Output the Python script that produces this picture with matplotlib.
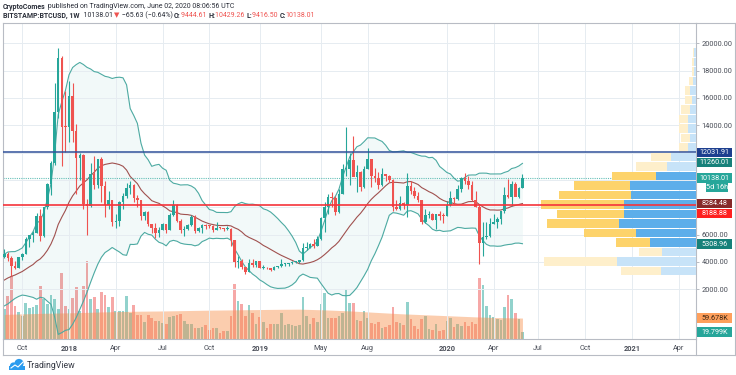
import numpy as np
import pandas as pd
import matplotlib
matplotlib.use('Agg')
import matplotlib.pyplot as plt
import matplotlib.dates as mdates
import matplotlib.transforms as mtransforms
from matplotlib.patches import Rectangle, Circle
from matplotlib.lines import Line2D

plt.rcParams['font.family'] = ['Roboto', 'DejaVu Sans']

# BITSTAMP:BTCUSD weekly candles, first visible week starts 2017-08-28
week_start = '2017-08-28'
opens = [4380, 4580, 4320, 3700, 3590, 4330, 4600, 5680, 6000, 6150,
         7370, 5920, 8000, 9700, 11250, 15000, 18950, 13900, 13850, 16150,
         13600, 11600, 11800, 8250, 8100, 10400, 9600, 11500, 9550, 8200,
         8500, 6900, 7000, 8350, 8800, 9400, 9650, 8700, 8500, 7350,
         7650, 6750, 6450, 6150, 6350, 6750, 6350, 7400, 8200, 7000,
         6300, 6400, 6700, 7300, 6250, 6500, 6700, 6620, 6600, 6300,
         6500, 6450, 6400, 6400, 5600, 4000, 4100, 3600, 3250, 3950,
         3800, 4050, 3550, 3550, 3520, 3420, 3650, 3680, 3820, 3850,
         3900, 4000, 4000, 4140, 5050, 5050, 5300, 5200, 5700, 7250,
         8000, 8750, 8700, 7650, 8950, 10800, 10800, 11450, 10200, 10600,
         9500, 10800, 11550, 10300, 10150, 9600, 10400, 10300, 10000, 8050,
         7850, 8300, 8200, 9550, 9200, 8800, 8500, 6900, 7400, 7500,
         7100, 7500, 7380, 7350, 8150, 8700, 8600, 9350, 10150, 9900,
         9650, 8550, 8050, 5350, 5800, 5900, 6780, 6900, 7120, 7700,
         8900, 8750, 9680, 8720, 9444.61]
highs = [4980, 4700, 4400, 4100, 4380, 4620, 5860, 6000, 6250, 7600,
         7880, 8000, 9750, 11400, 17100, 19660, 19100, 16500, 17250, 17100,
         14100, 12000, 11900, 8600, 11250, 11750, 11550, 11700, 9950, 9200,
         8500, 7500, 8450, 9050, 9750, 9950, 9700, 8900, 8500, 7750,
         7750, 6800, 6850, 6530, 6830, 6800, 7600, 8500, 8270, 7150,
         6600, 6800, 7400, 7400, 6550, 6800, 6800, 6680, 6700, 6900,
         6550, 6500, 6600, 6500, 5600, 4400, 4200, 3600, 4250, 4250,
         4100, 4100, 3750, 3630, 3550, 3700, 3700, 4200, 3900, 3950,
         4050, 4100, 4150, 5350, 5450, 5400, 5650, 5900, 7300, 8350,
         8950, 9100, 8800, 9350, 11200, 13880, 12000, 13200, 11100, 10650,
         11050, 12300, 11550, 10900, 10600, 10900, 10450, 10350, 10050, 8500,
         8800, 8400, 10500, 9950, 9500, 9100, 8500, 7850, 7750, 7600,
         7500, 7700, 7550, 8450, 9200, 8750, 9600, 10200, 10500, 10300,
         9950, 9200, 8150, 6900, 6950, 7200, 7500, 7300, 7750, 9450,
         10050, 9950, 9850, 9500, 10429.26]
lows = [4300, 4100, 2980, 3500, 3580, 4150, 4560, 5100, 5450, 6100,
        5500, 5840, 7900, 8900, 11100, 14500, 11000, 12050, 12750, 12800,
        9000, 10000, 7900, 5950, 8000, 9300, 9400, 8400, 7300, 7900,
        6600, 6450, 6650, 7850, 8700, 9000, 8350, 8000, 7100, 7050,
        6650, 6100, 5750, 5800, 6350, 6100, 6300, 7350, 6900, 6150,
        5880, 6300, 6650, 6100, 6200, 6100, 6400, 6500, 6200, 6300,
        6400, 6250, 6300, 5200, 3600, 3560, 3500, 3150, 3250, 3600,
        3650, 3550, 3480, 3450, 3350, 3380, 3550, 3660, 3700, 3700,
        3850, 3900, 3900, 4100, 4900, 5000, 5000, 5150, 5600, 6200,
        7500, 8000, 7450, 7550, 8950, 10300, 9650, 11100, 9100, 9200,
        9400, 10800, 9450, 9850, 9350, 9550, 9900, 9850, 7700, 7780,
        7800, 7900, 7300, 8950, 8700, 8350, 6800, 6850, 7200, 7050,
        6430, 7100, 6880, 7350, 8100, 8250, 8500, 9100, 9700, 9300,
        8450, 8000, 3850, 4450, 5700, 5850, 6750, 6500, 6800, 7600,
        8650, 8100, 8800, 8650, 9416.50]
closes = [4580, 4320, 3700, 3590, 4330, 4600, 5680, 6000, 6150, 7370,
          5920, 8000, 9700, 11250, 15000, 18950, 13900, 13850, 16150, 13600,
          11600, 11800, 8250, 8100, 10400, 9600, 11500, 9550, 8200, 8500,
          6900, 7000, 8350, 8800, 9400, 9650, 8700, 8500, 7350, 7650,
          6750, 6450, 6150, 6350, 6750, 6350, 7400, 8200, 7000, 6300,
          6400, 6700, 7300, 6250, 6500, 6700, 6620, 6600, 6300, 6500,
          6450, 6400, 6400, 5600, 4000, 4100, 3600, 3250, 3950, 3800,
          4050, 3550, 3550, 3520, 3420, 3650, 3680, 3820, 3850, 3900,
          4000, 4000, 4140, 5050, 5050, 5300, 5200, 5700, 7250, 8000,
          8750, 8700, 7650, 8950, 10800, 10800, 11450, 10200, 10600, 9500,
          10800, 11550, 10300, 10150, 9600, 10400, 10300, 10000, 8050, 7850,
          8300, 8200, 9550, 9200, 8800, 8500, 6900, 7400, 7500, 7100,
          7500, 7380, 7350, 8150, 8700, 8600, 9350, 10150, 9900, 9650,
          8550, 8050, 5350, 5800, 5900, 6780, 6900, 7120, 7700, 8900,
          8750, 9680, 8720, 9444.61, 10138.01]
# weekly volume, thousands of BTC
volumes_k = [85, 123, 180, 94, 77, 66, 103, 88, 91, 97,
             151, 114, 100, 125, 114, 86, 188, 94, 86, 117,
             148, 80, 151, 222, 114, 120, 86, 134, 125, 91,
             120, 80, 80, 80, 123, 74, 97, 68, 68, 48,
             68, 60, 51, 51, 46, 43, 63, 66, 68, 71,
             51, 43, 43, 31, 31, 34, 40, 26, 31, 31,
             17, 23, 23, 66, 157, 108, 100, 66, 97, 74,
             43, 63, 48, 31, 43, 43, 43, 74, 40, 43,
             40, 37, 40, 120, 66, 43, 60, 48, 100, 131,
             60, 60, 60, 66, 74, 143, 103, 103, 54, 51,
             80, 60, 46, 43, 48, 31, 34, 40, 91, 48,
             46, 40, 105, 57, 37, 29, 57, 66, 29, 26,
             43, 23, 26, 51, 60, 34, 43, 37, 48, 37,
             48, 43, 174, 154, 94, 68, 63, 57, 54, 91,
             125, 114, 74, 57, 19.8]
# closes of the 19 weeks before the first visible candle (Bollinger warm-up)
warmup_closes = [1240, 1350, 1560, 1780, 2050, 2200, 2520, 2950, 2500, 2550,
                 2500, 2500, 1930, 2750, 2750, 3230, 4050, 4080, 4350]

# orange volume average band, read at a few weeks (week index, thousands)
vol_avg_weeks = [0, 10, 20, 27, 36, 45, 56, 68, 76, 82, 89, 96, 103, 110, 117, 124, 131, 137, 144]
vol_avg_k = [70, 73, 75, 77, 79, 80, 82, 83.5, 84.5, 85, 83, 80, 76, 72, 69, 66, 63, 61, 59.678]

# visible range volume profile: 24 rows from the lowest low to the highest high
vp_up = [40, 73, 23, 34, 52, 72, 67, 83, 72, 56, 44, 31, 20, 9, 9, 9, 9, 9, 7, 5, 4, 2, 2, 1.5]
vp_down = [35, 79, 34, 46, 60, 77, 72, 72, 65, 66, 40, 29, 25, 8, 6, 8, 8, 6, 4, 6, 3, 2, 2, 1.5]
value_area = (3, 10)

h_lines = [12031.91, 8188.88]
price_ticks = [2000, 4000, 6000, 8000, 10000, 12000, 14000, 16000, 18000, 20000]
hidden_ticks = [8000, 10000, 12000]   # covered by the value boxes on the scale
tick_dates = ['2017-10-02', '2018-01-01', '2018-04-02', '2018-07-02', '2018-10-01', '2019-01-07',
              '2019-05-06', '2019-08-05', '2020-01-06', '2020-04-06', '2020-07-01', '2020-10-01',
              '2021-01-01', '2021-04-01']
tick_labels = ['Oct', '2018', 'Apr', 'Jul', 'Oct', '2019', 'May', 'Aug', '2020', 'Apr', 'Jul', 'Oct', '2021', 'Apr']

UP, DOWN = '#26A69A', '#EF5350'
FRAME = '#B8BCC4'
TXT = '#2A2E39'

W, H = 736, 375
fig = plt.figure(figsize=(W / 100, H / 100), dpi=100)
L, R, T, B = 3, 696, 23, 339
rect = [L / W, 1 - B / H, (R - L) / W, (B - T) / H]
axv = fig.add_axes(rect)
ax = fig.add_axes(rect, sharex=axv)
ax.patch.set_visible(False)

dates = pd.date_range(week_start, periods=len(closes), freq='7D')
x = mdates.date2num(dates)
o = np.array(opens); c = np.array(closes)
cols = np.where(c >= o, UP, DOWN)

# bollinger bands 20, 2
s = pd.Series(warmup_closes + closes, dtype=float)
mid = s.rolling(20).mean().values[-len(closes):]
sd = s.rolling(20).std(ddof=0).values[-len(closes):]
upper, lower = mid + 2 * sd, mid - 2 * sd

ax.fill_between(x, lower, upper, color=UP, alpha=0.06, lw=0, zorder=1)
ax.plot(x, upper, color='#4DAAA2', lw=0.8, zorder=2)
ax.plot(x, lower, color='#4DAAA2', lw=0.8, zorder=2)
ax.plot(x, mid, color='#A0514F', lw=0.8, zorder=2)

# candles
ax.vlines(x, lows, highs, colors=cols, lw=0.8, zorder=3)
ax.bar(x, np.maximum(np.abs(c - o), 70), bottom=np.minimum(o, c), width=5,
       color=cols, lw=0, zorder=4)

# volume
axv.bar(x, volumes_k, width=5.2, color=cols, alpha=0.5, lw=0, zorder=2)
axv.fill_between(mdates.date2num(dates[vol_avg_weeks]), 0, vol_avg_k,
                 color='#F8904D', alpha=0.45, lw=0, zorder=3)
axv.set_ylim(0, 900)
axv.axis('off')

# horizontal lines and last price line
ax.axhline(h_lines[0], color='#30519A', lw=1.1, zorder=6)
ax.axhline(h_lines[1], color='#F5333B', lw=1.2, zorder=6)
ax.axhline(closes[-1], color=UP, lw=0.8, ls=(0, (1, 1)), alpha=0.7, zorder=2)

x0 = mdates.date2num(pd.Timestamp('2018-01-01'))
ax.set_xlim(x0 - 128.4, x0 + 1219.6)
ax.set_ylim(-1639, 21482)

# volume profile, anchored to the right edge
lo, hi = min(lows), max(highs)
step = (hi - lo) / len(vp_up)
tr = mtransforms.blended_transform_factory(ax.transAxes, ax.transData)
scale = 0.224 / max(u + d for u, d in zip(vp_up, vp_down))
for k, (u, d) in enumerate(zip(vp_up, vp_down)):
    in_va = value_area[0] <= k <= value_area[1]
    cu = '#FDD36B' if in_va else '#FEEFCB'
    cd = '#5DAEEA' if in_va else '#C7E3F8'
    yb = lo + k * step + step * 0.06
    hh = step * 0.88
    ax.add_patch(Rectangle((1 - d * scale, yb), d * scale, hh, transform=tr, fc=cd, lw=0, zorder=5))
    ax.add_patch(Rectangle((1 - (u + d) * scale, yb), u * scale, hh, transform=tr, fc=cu, lw=0, zorder=5))

# axes styling
ax.set_yticks(price_ticks)
ax.set_yticklabels(['' if p in hidden_ticks else '{:.2f}'.format(p) for p in price_ticks])
ax.yaxis.tick_right()
ax.tick_params(axis='y', length=2.5, width=0.7, color=FRAME, pad=1.5, labelsize=5.3, labelcolor='#4A4E58')
ax.set_xticks(mdates.date2num(pd.to_datetime(tick_dates)))
ax.set_xticklabels(tick_labels)
ax.tick_params(axis='x', length=0, pad=4, labelsize=5.3, labelcolor='#4A4E58')
for lab in ax.get_xticklabels():
    if lab.get_text().isdigit():
        lab.set_fontweight('bold')
ax.grid(color='#E6ECF1', lw=0.7, zorder=0)
for sp in ax.spines.values():
    sp.set_color(FRAME)
    sp.set_linewidth(0.8)

# outer frame of the chart window
idt = mtransforms.IdentityTransform()


def fig_line(xs, ys, color=FRAME, lw=0.8):
    fig.add_artist(Line2D(xs, [H - y for y in ys], transform=idt, color=color, lw=lw))


fig_line([R, 734.5], [T, T])
fig_line([734.5, 734.5], [T, 355])
fig_line([L, 734.5], [355, 355])
fig_line([L, L], [B, 355])
fig_line([R, R], [B, 355])


def axis_box(yc, text, fc, tc='white', xl=697, w=35):
    fig.add_artist(Rectangle((xl, H - yc - 4.6), w, 9.2, transform=idt, fc=fc, lw=0, zorder=5))
    fig.text((xl + w / 2) / W, 1 - yc / H, text, ha='center', va='center',
             fontsize=5.2, color=tc, zorder=6)


def price_y(p, axis=ax):
    return H - axis.transData.transform((x0, p))[1]


axis_box(price_y(12031.91), '12031.91', '#1D3F8F')
axis_box(price_y(11260.01), '11260.01', '#16817A')
axis_box(price_y(10138.01), '10138.01', UP)
axis_box(price_y(10138.01) + 9.3, '5d 16h', UP, xl=706, w=22)
axis_box(price_y(8284.48), '8284.48', '#862A2A')
axis_box(price_y(8188.88) + 8.5, '8188.88', '#FF2020')
axis_box(price_y(5308.96), '5308.96', '#16817A')
axis_box(price_y(59.678, axv), '59.678K', '#FFA05C', tc='#3B2412')
axis_box(price_y(19.799, axv), '19.799K', UP)

# header
renderer = fig.canvas.get_renderer()


def runs(xp, yp, parts, size=5.0):
    for txt, color, weight in parts:
        t = fig.text(xp / W, 1 - yp / H, txt, fontsize=size, color=color,
                     fontweight=weight, ha='left', va='center')
        xp += t.get_window_extent(renderer=renderer).width


runs(3, 6.8, [('CryptoComes', TXT, 'bold'),
              (' published on TradingView.com, June 02, 2020 08:06:56 UTC', TXT, 'normal')])
runs(3, 15.5, [('BITSTAMP:BTCUSD, 1W', TXT, 'bold'), ('  10138.01 ', TXT, 'normal'),
               ('\u25bc', DOWN, 'normal'), (' \u221265.63 (\u22120.64%) ', TXT, 'normal'),
               ('O:', TXT, 'bold'), ('9444.61 ', DOWN, 'normal'),
               ('H:', TXT, 'bold'), ('10429.26 ', DOWN, 'normal'),
               ('L:', TXT, 'bold'), ('9416.50 ', DOWN, 'normal'),
               ('C:', TXT, 'bold'), ('10138.01', DOWN, 'normal')])

# footer logo
fig.add_artist(Circle((13.5, H - 366), 3.6, transform=idt, fc='#2A9BEF', lw=0))
fig.add_artist(Circle((19, H - 363.5), 4.6, transform=idt, fc='#2A9BEF', lw=0))
fig.add_artist(Rectangle((9, H - 370), 16, 4.5, transform=idt, fc='#2A9BEF', lw=0))
fig_line([11, 15, 18, 23], [368, 365, 367, 362], color='white', lw=0.8)
fig.text(27 / W, 1 - 365.5 / H, 'TradingView', fontsize=6.3, color='#363A45', va='center', ha='left')

fig.savefig('out.png', dpi=100)
